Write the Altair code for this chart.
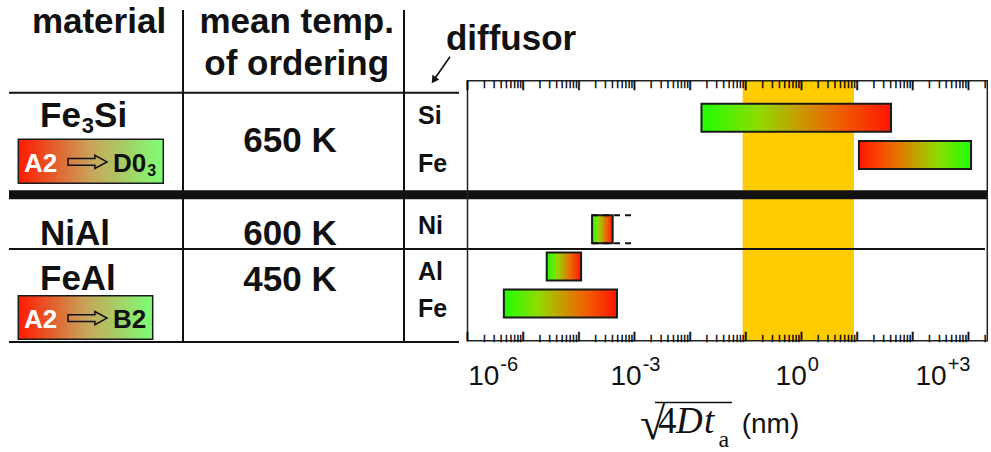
import re

import altair as alt
import pandas as pd

# ------------------------------------------------------------------ data
# "_3" marks a subscript digit
materials = ["Fe_3Si", "NiAl", "FeAl"]
ordering_temp_K = [650, 600, 450]
transition_from = ["A2", None, "A2"]
transition_to = ["D0_3", None, "B2"]

diffusor = ["Si", "Fe", "Ni", "Al", "Fe"]
diffusor_material = ["Fe_3Si", "Fe_3Si", "NiAl", "FeAl", "FeAl"]
length_low_nm = [0.016, 10.8, 1.73e-4, 2.65e-5, 4.5e-6]
length_high_nm = [40.7, 1117.0, 4.06e-4, 1.1e-4, 4.85e-4]
ordered_end = ["low", "high", "low", "low", "low"]  # end of each bar shown green
ni_open_end_nm = 1.07e-3                           # dashed continuation of the Ni bar
band_nm = [0.088, 8.8]                             # highlighted length range

decade_values = [1e-6, 1e-3, 1e0, 1e3]
decade_exponents = ["-6", "-3", "0", "+3"]

# ------------------------------------------------------------------ layout
W, H = 991, 452
LEFT, TOP, RIGHT, BOTTOM = 467.5, 80.7, 987.3, 340.7
PW, PH = RIGHT - LEFT, BOTTOM - TOP
X_MAX = 10 ** 3.34
Y_TOP, Y_BOTTOM = -1.0, 6.0         # row-unit extent of the plot frame
row_slot = [0, 1, 3, 4, 5]          # Fe3Si rows, separator, NiAl row, FeAl rows
HALF = 0.377                        # half bar thickness in row units
diffusor_baseline = [124, 171.7, 234.3, 280, 316.7]
material_baseline = [126.7, 245, 290]
temp_baseline = [151.7, 245, 290.7]
legend_box = {0: (18.3, 163.3, 139.3, 183.3), 2: (18.3, 152.7, 295.7, 339.3)}
label_dx = [31.8, 7.2, 5.3, -21.7]  # right edge of "10" relative to its decade

SANS = "Liberation Sans"
SERIF = "Liberation Serif"
INK = "#111111"

xs = alt.Scale(type="log", domain=[1e-6, X_MAX], nice=False)
ys = alt.Scale(domain=[Y_TOP, Y_BOTTOM], reverse=True, nice=False, zero=False)

one = pd.DataFrame({"k": [0]})
layers = []


def px(x):
    return x - LEFT


def py(y):
    return y - TOP


def text(s, x, y, size, align="left", bold=True, color=INK, font=SANS, style="normal"):
    layers.append(
        alt.Chart(one)
        .mark_text(text=s, font=font, fontSize=size, fontWeight="bold" if bold else "normal",
                   fontStyle=style, align=align, baseline="alphabetic", color=color)
        .encode(x=alt.value(px(x)), y=alt.value(py(y)))
    )


def hline(x1, x2, y, w):
    layers.append(
        alt.Chart(one).mark_rule(color=INK, strokeWidth=w, strokeCap="butt")
        .encode(x=alt.value(px(x1)), x2=alt.value(px(x2)), y=alt.value(py(y)))
    )


def vline(x, y1, y2, w):
    layers.append(
        alt.Chart(one).mark_rule(color=INK, strokeWidth=w, strokeCap="butt")
        .encode(x=alt.value(px(x)), y=alt.value(py(y1)), y2=alt.value(py(y2)))
    )


# Arial Bold advance widths (em) for the glyphs used in formulas
BOLD_WIDTH = {"A": .722, "B": .722, "D": .722, "F": .611, "N": .722, "S": .667,
              "e": .556, "i": .278, "l": .278, "0": .556, "2": .556, "3": .556}


def formula(s, x, y, size, color=INK):
    """Bold chemical/structure label with subscript digits after '_'."""
    sub = round(size * 0.63)
    for subscript, normal in re.findall(r"_(\d+)|([^_]+)", s):
        if subscript:
            text(subscript, x + 1, y + 0.19 * size, sub, color=color)
            x += 1 + sum(BOLD_WIDTH[c] for c in subscript) * sub
        else:
            text(normal, x, y, size, color=color)
            x += sum(BOLD_WIDTH[c] for c in normal) * size


def ramp(stops):
    return alt.LinearGradient(
        gradient="linear", x1=0, x2=1, y1=0, y2=0,
        stops=[alt.GradientStop(offset=o, color=c) for o, c in stops],
    )


GREEN_TO_RED = [(0, "#1eff00"), (0.3, "#8fdc00"), (0.5, "#c4a000"), (0.72, "#ef6200"), (1, "#ff1400")]
RED_TO_GREEN = [(round(1 - o, 3), c) for o, c in reversed(GREEN_TO_RED)]
LEGEND_RAMP = [(0, "#ff1a00"), (0.5, "#c9a45a"), (1, "#7dff74")]

# ------------------------------------------------------------------ highlighted band
band = pd.DataFrame({"lo": [band_nm[0]], "hi": [band_nm[1]]})
layers.append(
    alt.Chart(band).mark_rect(color="#ffcc00")
    .encode(x=alt.X("lo:Q", scale=xs, axis=None), x2="hi:Q", y=alt.value(0), y2=alt.value(PH))
)

# ------------------------------------------------------------------ table rules
vline(183, 10, 342, 2)
vline(404, 10, 342, 2)
hline(9, 459, 92.7, 2)
hline(9, RIGHT, 194.7, 9)
hline(9, 985, 249, 2)
hline(9, 459, 342, 2)

# ------------------------------------------------------------------ bars
bars = pd.DataFrame({
    "diffusor": diffusor, "material": diffusor_material,
    "low": length_low_nm, "high": length_high_nm, "ordered_end": ordered_end,
})
bars["slot"] = row_slot
bars["top"] = bars["slot"] - HALF
bars["bottom"] = bars["slot"] + HALF

for end, stops in (("low", GREEN_TO_RED), ("high", RED_TO_GREEN)):
    layers.append(
        alt.Chart(bars).transform_filter(alt.datum.ordered_end == end)
        .mark_rect(fill=ramp(stops), stroke="#1a1a1a", strokeWidth=2)
        .encode(x=alt.X("low:Q", scale=xs, axis=None), x2="high:Q",
                y=alt.Y("top:Q", scale=ys, axis=None), y2="bottom:Q")
    )

ni = bars[bars["diffusor"] == "Ni"].iloc[0]
dash = pd.DataFrame({"start": [ni["low"]] * 2, "end": [ni_open_end_nm] * 2,
                     "edge": [ni["top"], ni["bottom"]]})
layers.append(
    alt.Chart(dash).mark_rule(color=INK, strokeWidth=2, strokeDash=[6, 5])
    .encode(x=alt.X("start:Q", scale=xs, axis=None), x2="end:Q",
            y=alt.Y("edge:Q", scale=ys, axis=None))
)

# ------------------------------------------------------------------ frame
frame = pd.DataFrame({"lo": [1e-6], "hi": [X_MAX]})
layers.append(
    alt.Chart(frame).mark_rect(fill="transparent", stroke="#222222", strokeWidth=1.5)
    .encode(x=alt.X("lo:Q", scale=xs, axis=None), x2="hi:Q", y=alt.value(0), y2=alt.value(PH))
)

# ------------------------------------------------------------------ inward log ticks
# each tick is a vertical-bar glyph centred half its length inside the frame edge
for m_values, length in (([1], 9.5), (list(range(2, 10)), 6.0)):
    positions = pd.DataFrame({"at": [m * 10.0 ** k for k in range(-6, 4) for m in m_values
                                     if m * 10.0 ** k <= X_MAX]})
    for centre in (length / 2, PH - length / 2):
        layers.append(
            alt.Chart(positions)
            .mark_text(text="|", font=SANS, fontSize=length * 1.05, fontWeight="bold",
                       baseline="middle", align="center", color="#000000",
                       stroke="#000000", strokeWidth=0.5)
            .encode(x=alt.X("at:Q", scale=xs, axis=None), y=alt.value(centre))
        )

# ------------------------------------------------------------------ tick labels
for v, e, dx in zip(decade_values, decade_exponents, label_dx):
    d = pd.DataFrame({"decade": [v]})
    layers.append(
        alt.Chart(d).mark_text(text="10", font=SANS, fontSize=28, align="right",
                               baseline="alphabetic", dx=dx, color=INK)
        .encode(x=alt.X("decade:Q", scale=xs, axis=None), y=alt.value(py(385)))
    )
    layers.append(
        alt.Chart(d).mark_text(text=e, font=SANS, fontSize=20, align="left",
                               baseline="alphabetic", dx=dx + 1, color=INK)
        .encode(x=alt.X("decade:Q", scale=xs, axis=None), y=alt.value(py(370.7)))
    )

# axis title: sqrt(4 D t_a) (nm)
text("\u221a", 640, 439, 46, bold=False, font=SERIF)
hline(655, 732, 402.5, 1.5)
text("4", 658, 433.3, 37, bold=False, font=SERIF)
text("D", 676, 433.3, 37, bold=False, font=SERIF, style="italic")
text("t", 704, 433.3, 37, bold=False, font=SERIF, style="italic")
text("a", 718.5, 447, 24, bold=False, font=SERIF)
text("(nm)", 741.7, 433.3, 28, bold=False)

# ------------------------------------------------------------------ table text
text("material", 99, 33, 35, align="center")
text("mean temp.", 296.7, 33, 35, align="center")
text("of ordering", 296.7, 75, 35, align="center")
text("diffusor", 511, 50, 35, align="center")

# arrow from "diffusor" down to the diffusor column
layers.append(
    alt.Chart(one).mark_rule(color=INK, strokeWidth=1.6)
    .encode(x=alt.value(px(450)), x2=alt.value(px(434.5)), y=alt.value(py(56.7)), y2=alt.value(py(79)))
)
layers.append(
    alt.Chart(one).mark_point(shape="triangle-up", filled=True, color=INK, size=70,
                              angle=214.7, opacity=1)
    .encode(x=alt.value(px(433.8)), y=alt.value(py(80.2)))
)

for i, name in enumerate(materials):
    formula(name, 40, material_baseline[i], 35)
    text(f"{ordering_temp_K[i]} K", 290, temp_baseline[i], 35, align="center")

ARROW = "M -1 -0.17 L 0.38 -0.17 L 0.38 -0.34 L 1 0 L 0.38 0.34 L 0.38 0.17 L -1 0.17 Z"
for i, (x1, x2, y1, y2) in legend_box.items():
    layers.append(
        alt.Chart(one).mark_rect(fill=ramp(LEGEND_RAMP), stroke="#1a1a1a", strokeWidth=1.5)
        .encode(x=alt.value(px(x1)), x2=alt.value(px(x2)), y=alt.value(py(y1)), y2=alt.value(py(y2)))
    )
    base = y2 - 11.8
    formula(transition_from[i], 24, base, 26, color="white")
    layers.append(
        alt.Chart(one).mark_point(shape=ARROW, filled=False, stroke=INK, strokeWidth=1.5,
                                  size=1521, opacity=1)
        .encode(x=alt.value(px(87.5)), y=alt.value(py((y1 + y2) / 2 + 0.6)))
    )
    formula(transition_to[i], 113, base, 26)

for name, base in zip(diffusor, diffusor_baseline):
    text(name, 418, base, 25)

chart = (
    alt.layer(*layers)
    .properties(
        width=PW, height=PH,
        padding={"left": LEFT, "top": TOP, "right": W - RIGHT, "bottom": H - BOTTOM},
        autosize=alt.AutoSizeParams(type="none"),
        background="white",
    )
    .configure_view(stroke=None)
)

chart.save("out.html", embed_options={"renderer": "svg", "actions": False})
